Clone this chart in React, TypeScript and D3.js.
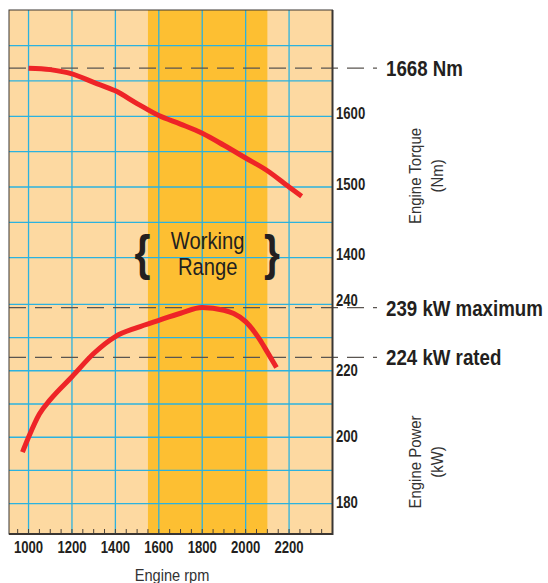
import React, { useEffect, useRef } from "react";
import * as d3 from "d3";

// torque curve (Nm) vs engine rpm
const torqueRpm = [1000, 1100, 1200, 1300, 1400, 1500, 1600, 1700, 1800, 1900, 2000, 2100, 2200, 2258];
const torqueNm = [1668, 1666, 1660, 1648, 1636, 1618, 1601, 1589, 1576, 1559, 1541, 1523, 1500, 1487];

// power curve (kW) vs engine rpm
const powerRpm = [972, 1000, 1050, 1100, 1200, 1300, 1400, 1500, 1600, 1700, 1800, 1900, 1945, 2000, 2066, 2100, 2142];
const powerKw = [195.5, 200, 207, 211.3, 218.2, 225.2, 230.3, 233, 235.2, 237.3, 239, 238.2, 237.2, 234.8, 229.3, 225.6, 221];

const rpmTicks = [1000, 1200, 1400, 1600, 1800, 2000, 2200];
const torqueTicks = [1400, 1500, 1600];
const powerTicks = [180, 200, 220, 240];
const torqueGrid = [1400, 1450, 1500, 1550, 1600, 1650, 1700];
const powerGrid = [180, 190, 200, 210, 220, 230, 240];
const workingRange = [1550, 2100];

const refLines = [
  { axis: "torque", value: 1668, label: "1668 Nm" },
  { axis: "power", value: 239, label: "239 kW maximum" },
  { axis: "power", value: 224, label: "224 kW rated" },
];

const FONT = "'Liberation Sans', Arial, sans-serif";
const NARROW = 0.82; // squeeze to look like a condensed face

function EngineChart() {
  const ref = useRef<SVGSVGElement>(null);

  useEffect(() => {
    const svg = d3.select(ref.current);
    svg.selectAll("*").remove();

    const left = 9;
    const right = 332.5;
    const top = 10;
    const bottom = 534;

    const x = d3.scaleLinear().domain([910, 2400]).range([left, right]);
    const yT = d3.scaleLinear().domain([1400, 1700]).range([257.7, 45.6]);
    const yP = d3.scaleLinear().domain([180, 240]).range([503.7, 304.3]);

    // condensed text helper
    const label = (
      tx: number, ty: number, txt: string, size: number,
      opts: { bold?: boolean; anchor?: string; color?: string; rotate?: boolean; sx?: number } = {}
    ) => {
      const g = svg.append("g").attr(
        "transform",
        `translate(${tx},${ty})${opts.rotate ? " rotate(-90)" : ""} scale(${opts.sx || NARROW},1)`
      );
      return g.append("text")
        .attr("dy", "0.36em")
        .attr("text-anchor", opts.anchor || "start")
        .style("font-family", FONT)
        .style("font-weight", opts.bold ? "bold" : "normal")
        .style("font-size", size + "px")
        .attr("fill", opts.color || "#231f20")
        .text(txt);
    };

    // background
    svg.append("rect")
      .attr("x", left).attr("y", top)
      .attr("width", right - left).attr("height", bottom - top)
      .attr("fill", "#fdd9a1");

    // working range band
    svg.append("rect")
      .attr("x", x(workingRange[0])).attr("y", top)
      .attr("width", x(workingRange[1]) - x(workingRange[0]))
      .attr("height", bottom - top)
      .attr("fill", "#fdbf32");

    const grid = svg.append("g").attr("stroke", "#2bb2df").attr("stroke-width", 1.3);
    grid.selectAll("line.v").data(rpmTicks).enter().append("line")
      .attr("x1", (d) => x(d)).attr("x2", (d) => x(d))
      .attr("y1", top).attr("y2", bottom);
    grid.selectAll("line.t").data(torqueGrid).enter().append("line")
      .attr("x1", left).attr("x2", right)
      .attr("y1", (d) => yT(d)).attr("y2", (d) => yT(d));
    grid.selectAll("line.p").data(powerGrid).enter().append("line")
      .attr("x1", left).attr("x2", right)
      .attr("y1", (d) => yP(d)).attr("y2", (d) => yP(d));

    // minor ticks on the rpm axis
    svg.append("g")
      .attr("stroke", "#4a4038").attr("stroke-width", 1)
      .selectAll("line").data(d3.range(950, 2351, 50)).enter().append("line")
      .attr("x1", (d) => x(d)).attr("x2", (d) => x(d))
      .attr("y1", bottom - 5).attr("y2", bottom);

    // dashed reference lines
    refLines.forEach((r) => {
      const yy = r.axis === "torque" ? yT(r.value) : yP(r.value);
      svg.append("line")
        .attr("x1", left).attr("x2", 377)
        .attr("y1", yy).attr("y2", yy)
        .attr("stroke", "#5a5550").attr("stroke-width", 1.2)
        .attr("stroke-dasharray", "17 9");
      label(386, yy, r.label, 22, { bold: true, sx: 0.85 });
    });

    // curves
    const torqueLine = d3.line<number>()
      .x((d, i) => x(torqueRpm[i]))
      .y((d) => yT(d))
      .curve(d3.curveMonotoneX);
    const powerLine = d3.line<number>()
      .x((d, i) => x(powerRpm[i]))
      .y((d) => yP(d))
      .curve(d3.curveMonotoneX);

    svg.append("path").attr("d", torqueLine(torqueNm))
      .attr("fill", "none").attr("stroke", "#ee2427").attr("stroke-width", 5);
    svg.append("path").attr("d", powerLine(powerKw))
      .attr("fill", "none").attr("stroke", "#ee2427").attr("stroke-width", 5);

    // frame
    svg.append("rect")
      .attr("x", left).attr("y", top)
      .attr("width", right - left).attr("height", bottom - top)
      .attr("fill", "none").attr("stroke", "#3a3633").attr("stroke-width", 1);
    svg.append("path")
      .attr("d", `M${right},${top}V${bottom}H${left}`)
      .attr("fill", "none").attr("stroke", "#3a3633").attr("stroke-width", 2);

    // working range label
    const wx = (x(workingRange[0]) + x(workingRange[1])) / 2;
    label(wx, 241, "Working", 23.5, { anchor: "middle", sx: 0.86 });
    label(wx, 267, "Range", 23.5, { anchor: "middle", sx: 0.86 });
    label(142.5, 252, "{", 50, { anchor: "middle", bold: true });
    label(272, 252, "}", 50, { anchor: "middle", bold: true });

    // rpm tick labels
    rpmTicks.forEach((d) => label(x(d), 547, String(d), 16, { bold: true, anchor: "middle" }));
    label(172, 575, "Engine rpm", 17, { anchor: "middle", color: "#333", sx: 0.86 });

    // right-side tick labels
    torqueTicks.forEach((d) => label(336, yT(d) - 3, String(d), 16, { bold: true }));
    powerTicks.forEach((d) => label(336, yP(d) - (d === 240 ? 4 : 1), String(d), 16, { bold: true }));

    // rotated axis titles
    const titles = [
      { lines: ["Engine Torque", "(Nm)"], cy: 176 },
      { lines: ["Engine Power", "(kW)"], cy: 462 },
    ];
    titles.forEach((t) => {
      t.lines.forEach((ln, i) => {
        label(415 + i * 21.5, t.cy, ln, 17, { anchor: "middle", color: "#333", rotate: true, sx: 0.88 });
      });
    });
  }, []);

  return (
    <svg ref={ref} width={548} height={583}
      style={{ position: "absolute", left: 0, top: 0, background: "#fff" }} />
  );
}

export default function App() {
  return <EngineChart />;
}
